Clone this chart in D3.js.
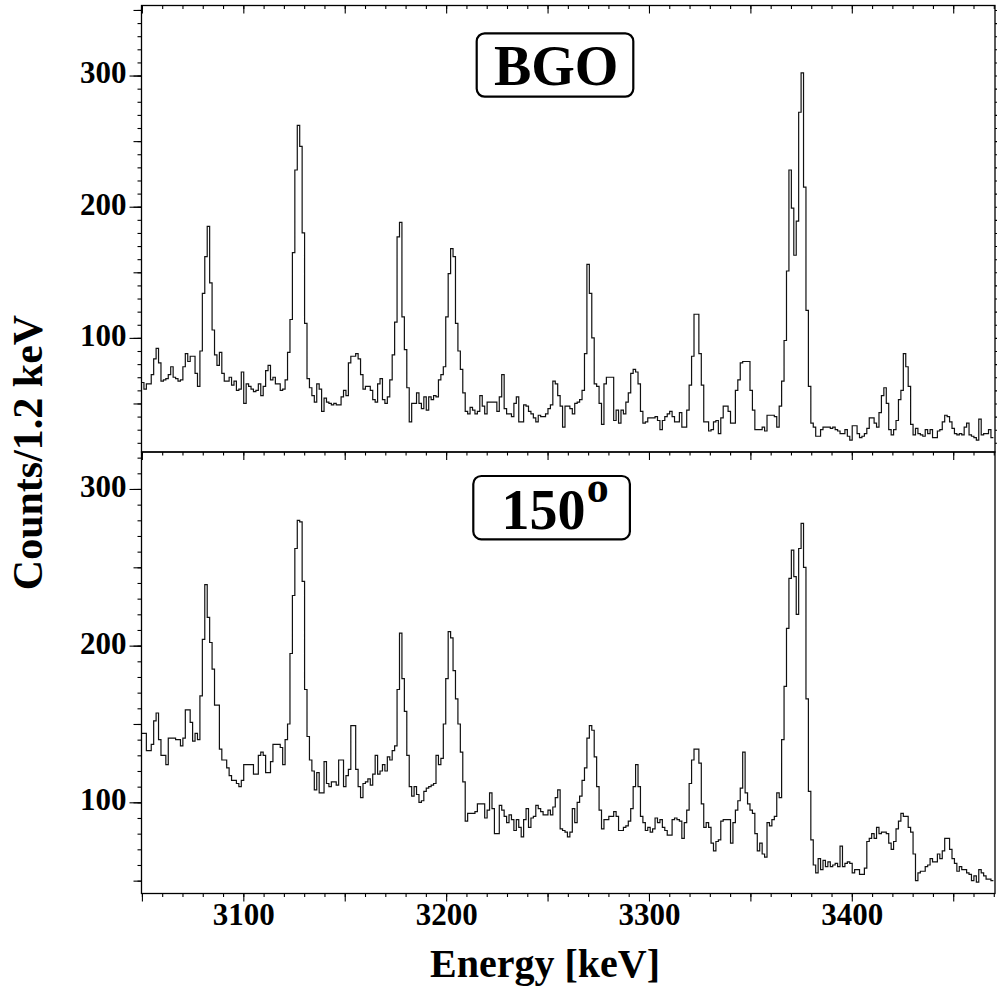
<!DOCTYPE html>
<html>
<head>
<meta charset="utf-8">
<script src="https://cdn.jsdelivr.net/npm/d3@7"></script>
<style>
  body { margin: 0; background: #fff; }
  svg { display: block; font-family: "Liberation Serif", "Times New Roman", serif; font-weight: bold; }
</style>
</head>
<body>
<script>
// spectra, 1.2 keV per bin
const binStart = 3049.8;
const binWidth = 1.2;

const bgoCounts = [
    66, 61, 65, 65, 72, 84, 92, 81, 67, 68,
    69, 72, 78, 70, 69, 67, 68, 78, 88, 82,
    86, 86, 73, 63, 90, 134, 162, 185, 142, 106,
    87, 79, 89, 73, 67, 67, 70, 64, 67, 60,
    61, 74, 50, 65, 63, 61, 59, 60, 65, 56,
    63, 75, 79, 68, 70, 65, 65, 60, 61, 68,
    89, 114, 165, 228, 262, 246, 180, 111, 69, 62,
    56, 51, 65, 61, 44, 54, 51, 50, 49, 50,
    49, 49, 55, 60, 56, 81, 86, 86, 88, 84,
    72, 61, 63, 63, 60, 53, 51, 65, 69, 53,
    50, 55, 68, 87, 112, 177, 188, 116, 91, 62,
    36, 50, 50, 58, 50, 46, 55, 45, 55, 53,
    56, 55, 68, 72, 78, 116, 149, 168, 162, 111,
    90, 76, 58, 44, 42, 47, 45, 42, 44, 56,
    48, 42, 51, 51, 51, 51, 44, 55, 72, 46,
    42, 42, 40, 50, 55, 36, 36, 49, 48, 44,
    42, 39, 36, 41, 40, 40, 42, 46, 49, 67,
    65, 56, 48, 32, 48, 48, 46, 42, 50, 51,
    53, 60, 88, 156, 134, 100, 65, 63, 50, 34,
    65, 70, 70, 70, 37, 45, 35, 45, 42, 51,
    58, 73, 76, 74, 65, 44, 35, 36, 39, 39,
    39, 40, 37, 30, 37, 40, 42, 44, 40, 36,
    36, 43, 32, 32, 45, 64, 86, 118, 118, 88,
    64, 36, 36, 29, 30, 36, 37, 27, 39, 48,
    48, 44, 35, 35, 60, 68, 81, 82, 82, 82,
    60, 45, 30, 30, 30, 32, 29, 41, 41, 41,
    40, 32, 48, 67, 98, 151, 228, 199, 163, 189,
    272, 302, 215, 121, 63, 35, 32, 25, 25, 30,
    32, 32, 32, 31, 32, 30, 29, 27, 27, 30,
    25, 22, 33, 33, 27, 24, 25, 27, 31, 39,
    39, 35, 32, 43, 56, 62, 50, 30, 26, 30,
    37, 53, 60, 88, 78, 63, 34, 26, 31, 27,
    26, 25, 30, 27, 30, 24, 24, 29, 30, 36,
    41, 40, 36, 31, 27, 26, 27, 26, 32, 35,
    26, 25, 24, 22, 38, 26, 27, 27, 30, 24
];

const deg150Counts = [
    144, 144, 133, 133, 137, 152, 157, 140, 130, 130,
    124, 141, 141, 141, 140, 140, 136, 141, 159, 159,
    151, 139, 144, 140, 168, 204, 239, 218, 202, 185,
    162, 162, 134, 127, 127, 122, 117, 114, 114, 112,
    110, 114, 124, 124, 124, 124, 118, 118, 130, 132,
    130, 119, 119, 126, 137, 137, 137, 135, 124, 140,
    150, 195, 232, 262, 280, 279, 241, 172, 142, 127,
    120, 108, 119, 106, 106, 126, 112, 110, 113, 113,
    111, 127, 127, 110, 117, 121, 149, 149, 121, 110,
    103, 112, 113, 115, 111, 118, 130, 118, 120, 124,
    120, 129, 127, 133, 136, 172, 208, 179, 158, 130,
    110, 104, 110, 105, 100, 101, 107, 109, 110, 111,
    112, 130, 124, 128, 150, 179, 209, 205, 184, 166,
    150, 132, 113, 88, 93, 93, 93, 94, 99, 99,
    99, 90, 95, 106, 96, 80, 80, 98, 95, 91,
    87, 92, 89, 82, 89, 84, 78, 89, 96, 84,
    90, 91, 98, 96, 94, 92, 92, 95, 92, 97,
    103, 108, 83, 82, 81, 78, 81, 96, 87, 100,
    104, 114, 122, 141, 149, 146, 129, 110, 95, 83,
    89, 89, 91, 91, 94, 91, 82, 82, 84, 85,
    88, 96, 110, 124, 110, 91, 87, 82, 84, 81,
    83, 90, 87, 89, 84, 82, 79, 79, 89, 90,
    89, 88, 77, 87, 95, 112, 127, 134, 134, 125,
    99, 84, 87, 84, 74, 69, 75, 76, 88, 89,
    89, 89, 74, 87, 95, 101, 109, 132, 106, 99,
    95, 93, 80, 69, 74, 67, 65, 87, 85, 89,
    91, 106, 103, 140, 174, 211, 243, 261, 244, 220,
    262, 278, 250, 166, 107, 76, 60, 55, 64, 57,
    63, 59, 62, 59, 60, 61, 59, 72, 59, 61,
    62, 61, 55, 57, 57, 54, 54, 58, 75, 77,
    80, 77, 84, 80, 81, 81, 80, 74, 70, 75,
    83, 88, 93, 91, 91, 84, 81, 67, 50, 55,
    56, 56, 59, 60, 64, 62, 62, 67, 64, 69,
    77, 77, 70, 64, 61, 56, 59, 57, 57, 55,
    54, 50, 53, 49, 57, 55, 53, 51, 51, 50
];

const xTickLabels = [3100, 3200, 3300, 3400];
const yTickLabels = [100, 200, 300];
const panelNames = ["BGO", "150"];
const panelSup = ["", "o"];

const width = 997;
const height = 989;
const left = 141.5;
const right = 995;

const xScale = d3.scaleLinear()
    .domain([3049.8, 3470.6])
    .range([left, right]);

const svg = d3.select("body")
    .append("svg")
    .attr("width", width)
    .attr("height", height);

const panels = [
    { counts: bgoCounts, domain: [13, 353.4], top: 5.5, bottom: 452, box: [476.7, 33.3], name: panelNames[0], sup: panelSup[0] },
    { counts: deg150Counts, domain: [41.8, 323.6], top: 452, bottom: 893.5, box: [473.3, 476], name: panelNames[1], sup: panelSup[1] }
];

const xMinor = d3.range(3050, 3471, 10);
const xMajor = d3.range(3050, 3471, 50);

function tickRange(domain, step) {
    return d3.range(Math.ceil(domain[0] / step) * step, domain[1], step);
}

function stripAxis(g) {
    g.select(".domain").remove();
    g.selectAll("line").attr("stroke", "#000").attr("stroke-width", 1.1);
}

panels.forEach((p, k) => {
    const yScale = d3.scaleLinear()
        .domain(p.domain)
        .range([p.bottom, p.top]);

    const clipId = "clip" + k;
    svg.append("clipPath")
        .attr("id", clipId)
        .append("rect")
        .attr("x", left)
        .attr("y", p.top)
        .attr("width", right - left)
        .attr("height", p.bottom - p.top);

    // histogram steps
    const pts = p.counts.map((c, i) => [binStart + i * binWidth, c]);
    pts.push([binStart + p.counts.length * binWidth, p.counts[p.counts.length - 1]]);

    const line = d3.line()
        .x(d => xScale(d[0]))
        .y(d => yScale(d[1]))
        .curve(d3.curveStepAfter);

    svg.append("path")
        .datum(pts)
        .attr("clip-path", `url(#${clipId})`)
        .attr("fill", "none")
        .attr("stroke", "#111")
        .attr("stroke-width", 1.2)
        .attr("d", line);

    // left axis: 10s, 50s, 100s
    svg.append("g")
        .attr("transform", `translate(${left}, 0)`)
        .call(d3.axisLeft(yScale).tickValues(tickRange(p.domain, 10)).tickSize(4).tickFormat(""))
        .call(stripAxis);

    svg.append("g")
        .attr("transform", `translate(${left}, 0)`)
        .call(d3.axisLeft(yScale).tickValues(tickRange(p.domain, 50)).tickSize(8).tickFormat(""))
        .call(stripAxis);

    const yLab = svg.append("g")
        .attr("transform", `translate(${left}, 0)`)
        .call(d3.axisLeft(yScale).tickValues(yTickLabels).tickSize(12).tickPadding(3))
        .call(stripAxis);
    yLab.selectAll("text")
        .attr("dy", "0.24em")
        .style("font-family", "'Liberation Serif', 'Times New Roman', serif")
        .style("font-weight", "bold")
        .style("font-size", "31px")
        .attr("fill", "#000");

    // top edge ticks pointing into the panel
    svg.append("g")
        .attr("transform", `translate(0, ${p.top})`)
        .call(d3.axisBottom(xScale).tickValues(xMinor).tickSize(3.5).tickFormat(""))
        .call(stripAxis);
    svg.append("g")
        .attr("transform", `translate(0, ${p.top})`)
        .call(d3.axisBottom(xScale).tickValues(xMajor).tickSize(8).tickFormat(""))
        .call(stripAxis);

    if (k === 0) {
        svg.append("g")
            .attr("transform", `translate(${right}, 0)`)
            .call(d3.axisRight(yScale).tickValues(tickRange(p.domain, 10)).tickSize(3).tickFormat(""))
            .call(stripAxis);
    }

    svg.append("rect")
        .attr("x", left)
        .attr("y", p.top)
        .attr("width", right - left)
        .attr("height", p.bottom - p.top)
        .attr("fill", "none")
        .attr("stroke", "#000")
        .attr("stroke-width", 1.3);

    // label box
    svg.append("rect")
        .attr("x", p.box[0])
        .attr("y", p.box[1])
        .attr("width", 156.6)
        .attr("height", 63.4)
        .attr("rx", 8)
        .attr("fill", "#fff")
        .attr("stroke", "#000")
        .attr("stroke-width", 2.2);

    if (p.sup === "") {
        svg.append("text")
            .attr("x", p.box[0] + 79.5)
            .attr("y", p.box[1] + 51.7)
            .attr("text-anchor", "middle")
            .style("font-size", "56px")
            .text(p.name);
    } else {
        svg.append("text")
            .attr("x", p.box[0] + 70.3)
            .attr("y", p.box[1] + 53.3)
            .attr("text-anchor", "middle")
            .style("font-size", "56px")
            .text(p.name);
        svg.append("text")
            .attr("x", p.box[0] + 113.4)
            .attr("y", p.box[1] + 25.7)
            .style("font-size", "44px")
            .text(p.sup);
    }
});

// bottom energy axis
const bottomY = panels[1].bottom;
svg.append("g")
    .attr("transform", `translate(0, ${bottomY})`)
    .call(d3.axisBottom(xScale).tickValues(xMinor).tickSize(3.5).tickFormat(""))
    .call(stripAxis);

const xLab = svg.append("g")
    .attr("transform", `translate(0, ${bottomY})`)
    .call(d3.axisBottom(xScale).tickValues(xMajor).tickSize(8)
        .tickFormat(d => xTickLabels.includes(d) ? d : ""))
    .call(stripAxis);
xLab.selectAll("text")
    .attr("y", 31.5)
    .attr("dy", 0)
    .style("font-family", "'Liberation Serif', 'Times New Roman', serif")
    .style("font-weight", "bold")
    .style("font-size", "31px")
    .attr("fill", "#000");

svg.append("text")
    .attr("x", 545)
    .attr("y", 977)
    .attr("text-anchor", "middle")
    .style("font-size", "40px")
    .text("Energy [keV]");

svg.append("text")
    .attr("transform", "translate(41.5, 452.5) rotate(-90)")
    .attr("text-anchor", "middle")
    .style("font-size", "42px")
    .text("Counts/1.2 keV");
</script>
</body>
</html>
